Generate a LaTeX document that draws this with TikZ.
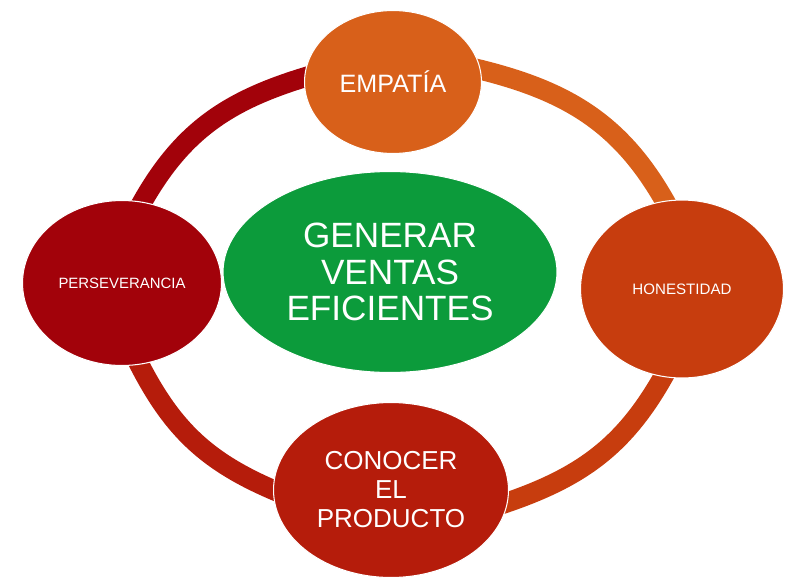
\documentclass[tikz,border=0pt]{standalone}
\usepackage{fontspec}
\setmainfont{Liberation Sans}
\usetikzlibrary{shapes.geometric,backgrounds}
\definecolor{empcol}{HTML}{D8601A}
\definecolor{honcol}{HTML}{C73D0E}
\definecolor{concol}{HTML}{B51C0B}
\definecolor{perscol}{HTML}{A2020A}
\definecolor{midcol}{HTML}{0C9B3B}
\begin{document}
\begin{tikzpicture}[x=0.02cm, y=0.02cm,
	bubble/.style = {ellipse, draw=white, line width=0.6pt, text=white, align=center, inner sep=0pt},
	ring/.style = {line width=0.4cm, shorten <=-0.25cm, shorten >=-0.25cm}]
	\useasboundingbox (0,0) rectangle (800,583);
	\node [bubble, fill=midcol, minimum width=6.68cm, minimum height=4.02cm, font=\fontsize{20}{20.8}\selectfont] (mid) at (390,311) {GENERAR\\VENTAS\\EFICIENTES};
	\node [bubble, fill=empcol, minimum width=3.54cm, minimum height=2.86cm, font=\fontsize{14.3}{16}\selectfont] (emp) at (393,501) {EMPATÍA};
	\node [bubble, fill=honcol, minimum width=4.06cm, minimum height=3.56cm, font=\fontsize{8.6}{10}\selectfont] (hon) at (682,294) {HONESTIDAD};
	\node [bubble, fill=concol, minimum width=4.7cm, minimum height=3.5cm, font=\fontsize{14.8}{16.5}\selectfont] (con) at (391,93) {CONOCER\\EL\\PRODUCTO};
	\node [bubble, fill=perscol, minimum width=3.98cm, minimum height=3.3cm, font=\fontsize{8.5}{10}\selectfont] (pers) at (122,300) {PERSEVERANCIA};
	\begin{scope}[on background layer]
		\draw [ring, perscol] (pers.76) to [out=62, in=196] (emp.177);
		\draw [ring, empcol] (emp.8) to [out=-13, in=118] (hon.101);
		\draw [ring, honcol] (hon.258) to [out=242, in=18] (con.-6);
		\draw [ring, concol] (con.west) to [out=158, in=296] (pers.-78);
	\end{scope}
\end{tikzpicture}
\end{document}
